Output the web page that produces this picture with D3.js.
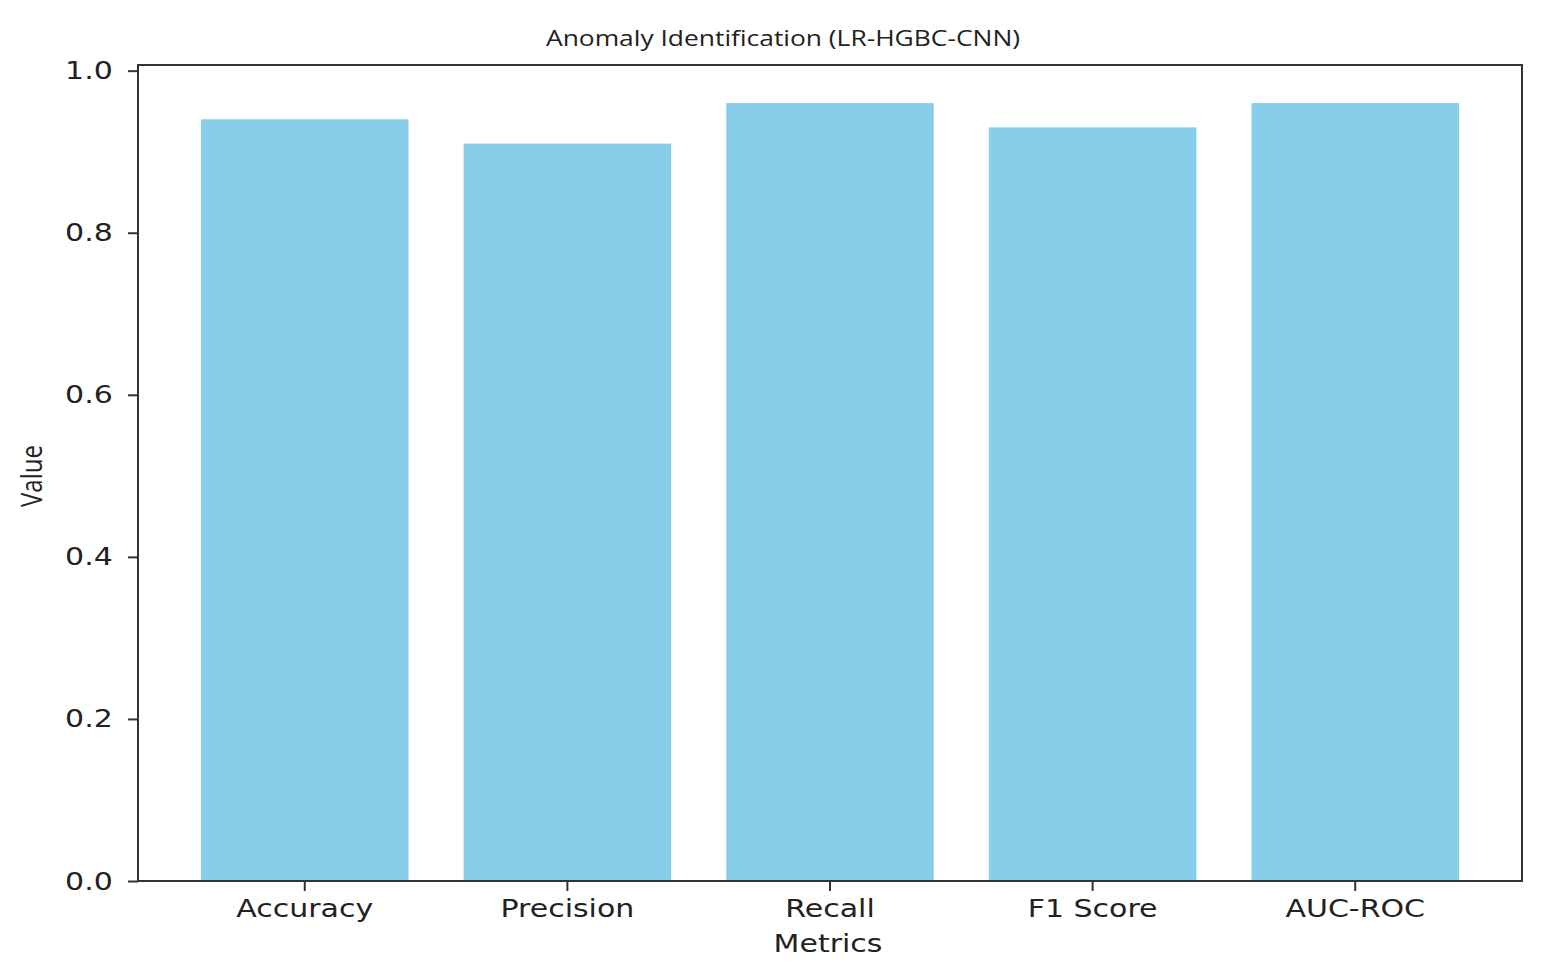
<!DOCTYPE html>
<html><head><meta charset="utf-8">
<script src="https://cdn.jsdelivr.net/npm/d3@7"></script>
<style>body{margin:0;background:#fff}</style>
</head><body>
<svg id="chart" width="1550" height="980"></svg>
<script>
const categories = ["Accuracy", "Precision", "Recall", "F1 Score", "AUC-ROC"];
const values = [0.94, 0.91, 0.96, 0.93, 0.96];
const yTicks = [0.0, 0.2, 0.4, 0.6, 0.8, 1.0];
const titleText = "Anomaly Identification (LR-HGBC-CNN)";
const xLabel = "Metrics";
const yLabel = "Value";

const svg = d3.select("#chart");
const m = {left: 138, right: 1522, top: 65, bottom: 881};
const SX = 1.2; // horizontal stretch of the reference image

const x = d3.scaleBand().domain(categories).range([m.left, m.right])
  .paddingInner(0.21).paddingOuter(0.24);
const y = d3.scaleLinear().domain([0, 1.007]).range([m.bottom, m.top]);

svg.append("g").selectAll("rect").data(categories).join("rect")
  .attr("x", d => x(d)).attr("width", x.bandwidth())
  .attr("y", (d, i) => y(values[i])).attr("height", (d, i) => y(0) - y(values[i]))
  .attr("fill", "#87CEEB");

svg.append("rect").attr("x", m.left).attr("y", m.top)
  .attr("width", m.right - m.left).attr("height", m.bottom - m.top)
  .attr("fill", "none").attr("stroke", "#333").attr("stroke-width", 2);

const tickFont = "DejaVu Sans, sans-serif";
const yAxis = svg.append("g").attr("transform", `translate(${m.left},0)`)
  .call(d3.axisLeft(y).tickValues(yTicks).tickFormat(d3.format(".1f")).tickSize(10).tickPadding(11));
yAxis.select(".domain").remove();
yAxis.selectAll("line").attr("stroke", "#333").attr("stroke-width", 2);
yAxis.selectAll("text").style("font-family", tickFont).style("font-size", "25px").attr("fill", "#222")
  .attr("transform", `scale(${SX},1)`);

const xAxis = svg.append("g").attr("transform", `translate(0,${m.bottom})`)
  .call(d3.axisBottom(x).tickSize(10).tickPadding(8));
xAxis.select(".domain").remove();
xAxis.selectAll("line").attr("stroke", "#333").attr("stroke-width", 2);
xAxis.selectAll(".tick").each(function() {
  d3.select(this).select("text").style("font-family", tickFont).style("font-size", "25px").attr("fill", "#222")
    .attr("transform", `scale(${SX},1)`);
});

function label(txt, tx, ty, font, size) {
  const g = svg.append("g").attr("transform", `translate(${tx},${ty}) scale(${SX},1)`);
  g.append("text").attr("text-anchor", "middle").style("font-family", font).style("font-size", size + "px")
    .attr("fill", "#222").text(txt);
}
label(titleText, 783, 46, "Open Sans, Noto Sans, sans-serif", 22);
label(xLabel, 828, 952, tickFont, 25);
svg.append("g").attr("transform", "translate(42,476) rotate(-90) scale(1,1.2)")
  .append("text").attr("text-anchor", "middle").style("font-family", "Open Sans, Noto Sans, sans-serif")
  .style("font-size", "24px").attr("fill", "#222").text(yLabel);
</script>
</body></html>
